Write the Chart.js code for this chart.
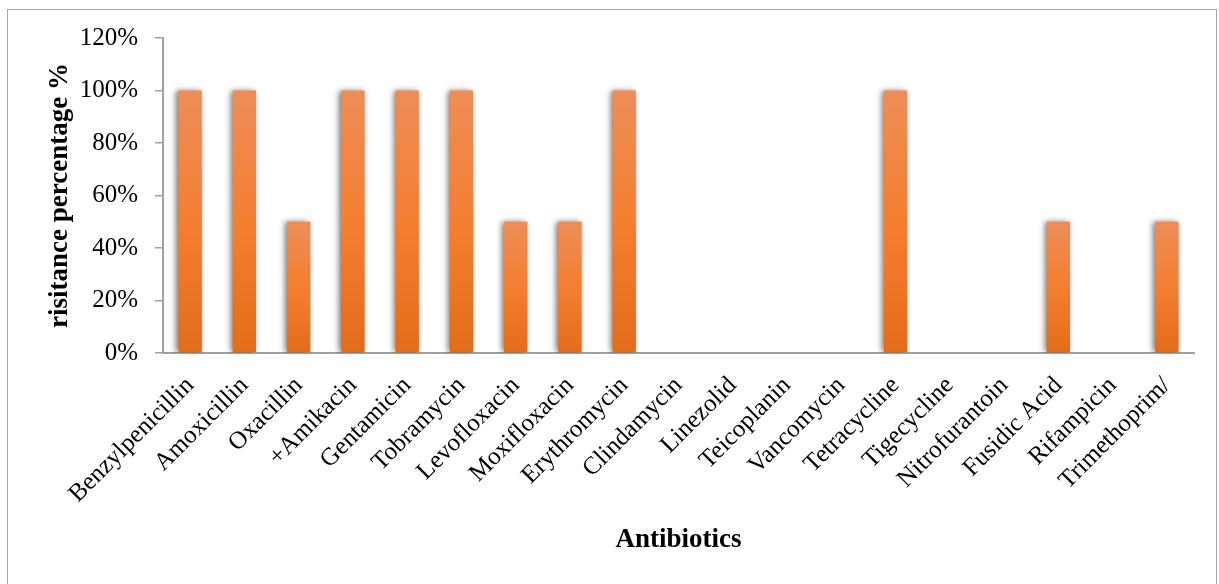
<!DOCTYPE html>
<html>
<head>
<meta charset="utf-8">
<script src="https://cdn.jsdelivr.net/npm/chart.js@4"></script>
<style>
  html, body { margin: 0; padding: 0; background: #fff; }
  #frame {
    position: absolute; left: 7px; top: 9px;
    width: 1210px; height: 590px;
    border: 1px solid #a6a6a6; box-sizing: border-box;
  }
  #wrap { position: absolute; left: 0; top: 0; width: 1208px; height: 574px; }
</style>
</head>
<body>
<div id="frame"><div id="wrap"><canvas id="resistChart"></canvas></div></div>
<script>
const antibiotics = [
  "Benzylpenicillin", "Amoxicillin", "Oxacillin", "+Amikacin", "Gentamicin",
  "Tobramycin", "Levofloxacin", "Moxifloxacin", "Erythromycin", "Clindamycin",
  "Linezolid", "Teicoplanin", "Vancomycin", "Tetracycline", "Tigecycline",
  "Nitrofurantoin", "Fusidic Acid", "Rifampicin", "Trimethoprim/"
];
const resistance = [100, 100, 50, 100, 100, 100, 50, 50, 100, 0, 0, 0, 0, 100, 0, 0, 50, 0, 50];
const yTicks = [0, 20, 40, 60, 80, 100, 120];

const FONT = "'Liberation Serif', 'Times New Roman', serif";

// orange gradient per bar, lighter at the top
function barFill(context) {
  const chart = context.chart;
  const area = chart.chartArea;
  if (!area) return "#f47f30";
  const y = chart.scales.y;
  const v = context.raw || 0;
  const top = y.getPixelForValue(v);
  const bottom = y.getPixelForValue(0);
  if (bottom - top < 1) return "#f47f30";
  const g = chart.ctx.createLinearGradient(0, top, 0, bottom);
  g.addColorStop(0, "#ee8d58");
  g.addColorStop(0.5, "#f47f30");
  g.addColorStop(1, "#e36c19");
  return g;
}

const barShadow = {
  id: "barShadow",
  beforeDatasetsDraw(chart) {
    const ctx = chart.ctx;
    ctx.save();
    ctx.shadowColor = "rgba(0,0,0,0.55)";
    ctx.shadowBlur = 6;
    ctx.shadowOffsetX = -2;
    ctx.shadowOffsetY = 0;
  },
  afterDatasetsDraw(chart) {
    chart.ctx.restore();
  }
};

const ctx = document.getElementById("resistChart").getContext("2d");
new Chart(ctx, {
  type: "bar",
  data: {
    labels: antibiotics,
    datasets: [{
      label: "Resistance",
      data: resistance,
      backgroundColor: barFill,
      borderWidth: 0,
      categoryPercentage: 1,
      barPercentage: 0.43
    }]
  },
  options: {
    responsive: true,
    maintainAspectRatio: false,
    animation: false,
    layout: { padding: { left: 36, right: 22, top: 28, bottom: 20 } },
    plugins: {
      legend: { display: false },
      tooltip: { enabled: false }
    },
    scales: {
      x: {
        grid: { display: false, drawTicks: false },
        border: { display: true, color: "#a0a0a0", width: 2 },
        ticks: {
          color: "#000",
          font: { family: FONT, size: 25 },
          minRotation: 45,
          maxRotation: 45,
          autoSkip: false,
          padding: 18
        },
        title: {
          display: true,
          text: "Antibiotics",
          color: "#000",
          font: { family: FONT, size: 27, weight: "bold" },
          padding: { top: 0, bottom: 8 }
        },
        afterFit(scale) { scale.height = 211; }
      },
      y: {
        min: 0,
        max: 120,
        afterBuildTicks(scale) { scale.ticks = yTicks.map(v => ({ value: v })); },
        grid: { drawOnChartArea: false, drawTicks: true, tickLength: 8, color: "#a0a0a0", lineWidth: 1.5 },
        border: { display: true, color: "#a0a0a0", width: 2 },
        ticks: {
          color: "#000",
          font: { family: FONT, size: 25 },
          padding: 17,
          callback: v => v + "%"
        },
        title: {
          display: true,
          text: "risitance percentage %",
          color: "#000",
          font: { family: FONT, size: 27, weight: "bold" },
          padding: { top: 0, bottom: 0 }
        },
        afterFit(scale) {
          scale.width = 119;
          scale.paddingTop = 0;
          scale.paddingBottom = 0;
        }
      }
    }
  },
  plugins: [barShadow]
});
</script>
</body>
</html>
